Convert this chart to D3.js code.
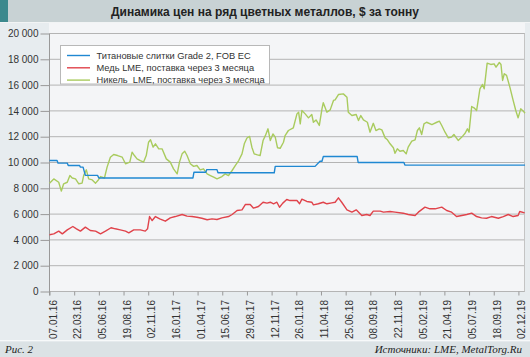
<!DOCTYPE html>
<html><head><meta charset="utf-8">
<script src="https://cdn.jsdelivr.net/npm/d3@7/dist/d3.min.js"></script>
<style>
html,body{margin:0;padding:0;background:#e8edf0;}
svg{display:block;}
</style></head>
<body>
<svg id="chart" width="530" height="357"></svg>
<script>
const title = "Динамика цен на ряд цветных металлов, $ за тонну";
const seriesNames = ["Титановые слитки Grade 2, FOB EC", "Медь LME, поставка через 3 месяца", "Никель  LME, поставка через 3 месяца"];
const seriesColors = ["#1f88d2", "#e0434b", "#a9cb5e"];
const yTicks = [0, 2000, 4000, 6000, 8000, 10000, 12000, 14000, 16000, 18000, 20000];
const tickLabels = ["07.01.16","22.03.16","05.06.16","19.08.16","02.11.16","16.01.17","01.04.17","15.06.17","29.08.17","12.11.17","26.01.18","11.04.18","25.06.18","08.09.18","22.11.18","05.02.19","21.04.19","05.07.19","18.09.19","02.12.19"];
const xDomain = ["2016-01-07", "2019-12-22"];

const titanium = [
["2016-01-07",10150],["2016-01-30",10150],["2016-02-02",9950],["2016-03-01",9950],["2016-03-04",9770],["2016-04-07",9770],["2016-04-10",9640],["2016-04-18",9640],["2016-04-25",9000],["2016-06-01",9000],["2016-06-05",8800],["2017-03-18",8800],["2017-03-21",9250],["2017-04-26",9250],["2017-04-29",9450],["2017-05-30",9450],["2017-06-02",9200],["2017-11-20",9200],["2017-11-23",9700],["2018-03-24",9700],["2018-04-08",10100],["2018-04-14",10100],["2018-04-18",10460],["2018-07-30",10460],["2018-08-02",10000],["2018-12-19",10000],["2018-12-22",9800],["2019-12-22",9800]
];

const copper = [
["2016-01-07",4400],["2016-01-20",4470],["2016-02-04",4680],["2016-02-15",4470],["2016-03-01",4780],["2016-03-18",5040],["2016-03-29",4860],["2016-04-10",4680],["2016-04-25",4990],["2016-05-10",4730],["2016-05-26",4680],["2016-06-10",4470],["2016-06-25",4680],["2016-07-12",4940],["2016-07-25",4860],["2016-08-09",4780],["2016-08-25",4680],["2016-09-04",4550],["2016-09-19",4780],["2016-10-09",4780],["2016-10-24",4680],["2016-10-31",4860],["2016-11-06",5810],["2016-11-14",5500],["2016-11-24",5810],["2016-12-07",5630],["2016-12-24",5450],
["2017-01-08",5710],["2017-01-23",5810],["2017-02-13",5970],["2017-02-28",5840],["2017-03-15",5810],["2017-03-30",5760],["2017-04-14",5680],["2017-04-30",5560],["2017-05-15",5630],["2017-05-30",5580],["2017-06-14",5710],["2017-07-04",5810],["2017-07-15",5970],["2017-07-30",6280],["2017-08-14",6330],["2017-08-24",6740],["2017-09-08",6740],["2017-09-18",6460],["2017-10-03",6590],["2017-10-17",6920],["2017-10-29",6850],["2017-11-08",6920],["2017-11-18",6800],["2017-11-28",6920],["2017-12-06",6530],["2017-12-16",6850],["2017-12-28",7130],
["2018-01-07",7050],["2018-01-28",7050],["2018-02-05",6800],["2018-02-12",7160],["2018-02-27",6980],["2018-03-14",6920],["2018-03-19",6720],["2018-04-03",6800],["2018-04-18",6920],["2018-04-29",6800],["2018-05-14",6870],["2018-05-24",6920],["2018-06-03",7260],["2018-06-13",6920],["2018-06-29",6330],["2018-07-14",6150],["2018-07-27",6330],["2018-08-13",5890],["2018-08-28",5970],["2018-09-07",5890],["2018-09-17",6230],["2018-10-08",6230],["2018-10-18",6150],["2018-11-07",6200],["2018-11-22",6150],["2018-12-17",6070],
["2019-01-01",5970],["2019-01-22",5890],["2019-02-01",6150],["2019-02-21",6540],["2019-03-08",6410],["2019-03-24",6410],["2019-04-13",6540],["2019-04-28",6280],["2019-05-13",6150],["2019-05-28",5810],["2019-06-13",5890],["2019-06-28",5970],["2019-07-13",6070],["2019-07-28",5810],["2019-08-12",5710],["2019-08-27",5680],["2019-09-11",5810],["2019-10-02",5680],["2019-10-17",5810],["2019-11-01",5970],["2019-11-16",5810],["2019-12-01",5890],["2019-12-06",6200],["2019-12-21",6100]
];

const nickel = [
["2016-01-07",8400],["2016-01-20",8730],["2016-02-04",8470],["2016-02-12",7780],["2016-02-19",8350],["2016-03-01",8470],["2016-03-09",8990],["2016-03-16",8800],["2016-03-26",8730],["2016-04-05",8350],["2016-04-15",8400],["2016-04-20",9000],["2016-04-28",9430],["2016-05-05",8730],["2016-05-16",8650],["2016-05-26",8400],["2016-06-02",8600],["2016-06-10",8910],["2016-06-22",8800],["2016-06-30",9640],["2016-07-10",10410],["2016-07-20",10620],["2016-08-01",10540],["2016-08-15",10410],["2016-08-25",9900],["2016-09-07",10030],["2016-09-14",10800],["2016-09-21",10540],["2016-09-29",10280],["2016-10-09",10150],["2016-10-19",10030],["2016-10-27",10540],["2016-11-03",11570],["2016-11-09",11760],["2016-11-17",11190],["2016-11-24",11450],["2016-12-04",11060],["2016-12-14",11060],["2016-12-27",10280],
["2017-01-08",10030],["2017-01-18",9510],["2017-01-29",9120],["2017-02-05",10030],["2017-02-13",10670],["2017-02-21",10870],["2017-02-28",10540],["2017-03-10",9900],["2017-03-20",9700],["2017-03-30",9770],["2017-04-09",9430],["2017-04-19",9510],["2017-04-30",9120],["2017-05-10",8990],["2017-05-20",8860],["2017-05-30",8730],["2017-06-14",8910],["2017-06-24",9120],["2017-07-04",8990],["2017-07-15",9380],["2017-07-25",9770],["2017-08-04",10150],["2017-08-14",10670],["2017-08-21",11450],["2017-08-29",11900],["2017-09-06",12020],["2017-09-13",11190],["2017-09-20",10670],["2017-09-30",10590],["2017-10-08",10540],["2017-10-17",11700],["2017-10-24",12080],["2017-11-01",12610],["2017-11-08",11700],["2017-11-16",12210],["2017-11-23",11960],["2017-11-30",11140],["2017-12-08",11100],["2017-12-18",11570],["2017-12-23",12090],
["2018-01-02",12480],["2018-01-17",12690],["2018-01-28",13770],["2018-02-02",13900],["2018-02-07",13000],["2018-02-12",14030],["2018-02-22",13770],["2018-03-04",13460],["2018-03-14",13720],["2018-03-19",13120],["2018-03-27",13300],["2018-04-06",12870],["2018-04-14",14160],["2018-04-18",14630],["2018-04-29",13900],["2018-05-09",14080],["2018-05-19",14810],["2018-05-24",14860],["2018-06-03",15270],["2018-06-18",15320],["2018-06-29",15060],["2018-07-03",13900],["2018-07-14",13640],["2018-07-27",13720],["2018-08-03",13250],["2018-08-10",13640],["2018-08-18",13300],["2018-08-30",13120],["2018-09-07",12350],["2018-09-17",13040],["2018-09-25",12480],["2018-10-05",12610],["2018-10-13",12530],["2018-10-23",11910],["2018-10-30",11760],["2018-11-07",11450],["2018-11-17",11140],["2018-11-22",10720],["2018-11-29",11060],["2018-12-07",10870],["2018-12-17",10930],["2018-12-26",10670],
["2019-01-01",11190],["2019-01-12",11650],["2019-01-22",11760],["2019-01-29",12480],["2019-02-04",12690],["2019-02-11",12170],["2019-02-18",13000],["2019-02-26",13120],["2019-03-14",12940],["2019-03-29",13120],["2019-04-06",13200],["2019-04-13",12870],["2019-04-23",12350],["2019-05-03",11910],["2019-05-13",11970],["2019-05-20",12170],["2019-06-02",11710],["2019-06-13",11970],["2019-06-23",12270],["2019-06-30",12610],["2019-07-05",12350],["2019-07-13",14340],["2019-07-20",14240],["2019-07-28",14030],["2019-08-07",15710],["2019-08-15",16050],["2019-08-20",15710],["2019-08-29",17700],["2019-09-09",17600],["2019-09-19",17650],["2019-09-25",17390],["2019-10-05",17750],["2019-10-10",17600],["2019-10-15",16360],["2019-10-20",16880],["2019-10-27",16750],["2019-11-06",15840],["2019-11-16",14810],["2019-11-24",14030],["2019-12-01",13460],["2019-12-09",14160],["2019-12-17",13980],["2019-12-22",13820]
];

const figLabel = "Рис. 2";
const sourceLabel = "Источники: LME, MetalTorg.Ru";

const W = 530, H = 357;
const svg = d3.select("#chart");
const parseISO = d3.timeParse("%Y-%m-%d");
const parseTick = d3.timeParse("%d.%m.%y");

const plot = {left: 49.5, right: 525, top: 33.5, bottom: 291.5};

// backgrounds
svg.append("rect").attr("x",0).attr("y",0).attr("width",W).attr("height",H).attr("fill","#e7ecef");
svg.append("rect").attr("x",49).attr("y",23).attr("width",476).attr("height",268.5).attr("fill","#f4f5f7");
// title bar
svg.append("rect").attr("x",0).attr("y",0).attr("width",W).attr("height",22).attr("fill","#c8d2d4");
svg.append("rect").attr("x",0).attr("y",22).attr("width",W).attr("height",1).attr("fill","#f2f4f5");
svg.append("rect").attr("x",0).attr("y",0).attr("width",8).attr("height",22).attr("fill","#3c898d");
svg.append("text").attr("x",W/2).attr("y",15.5).attr("text-anchor","middle")
  .attr("font-family","Liberation Sans, Arial, sans-serif").attr("font-weight","bold")
  .attr("font-size","12px").attr("fill","#222").text(title);
// footer
svg.append("rect").attr("x",0).attr("y",340).attr("width",W).attr("height",1.5).attr("fill","#f7f9fa");
svg.append("rect").attr("x",0).attr("y",341.5).attr("width",W).attr("height",H-341.5).attr("fill","#dbe2e5");
svg.append("text").attr("x",5).attr("y",352.5).attr("font-family","Liberation Serif, Times New Roman, serif")
  .attr("font-style","italic").attr("font-size","11px").attr("fill","#222").text(figLabel);
svg.append("text").attr("x",522).attr("y",352.5).attr("text-anchor","end").attr("font-family","Liberation Serif, Times New Roman, serif")
  .attr("font-style","italic").attr("font-size","11px").attr("fill","#222").text(sourceLabel);

const x = d3.scaleTime().domain(xDomain.map(parseISO)).range([plot.left, plot.right]);
const y = d3.scaleLinear().domain([0, 20000]).range([plot.bottom, plot.top]);

// gridlines
svg.append("g").selectAll("line").data(yTicks).join("line")
  .attr("x1", plot.left).attr("x2", plot.right)
  .attr("y1", d => y(d)).attr("y2", d => y(d))
  .attr("stroke", "#b4b4b4").attr("stroke-width", 1);
// right border
svg.append("line").attr("x1",524.5).attr("x2",524.5).attr("y1",plot.top).attr("y2",plot.bottom)
  .attr("stroke","#c4c4c4");

// y axis
const yAxis = d3.axisLeft(y).tickValues(yTicks).tickSize(9).tickPadding(2)
  .tickFormat(v => d3.format(",")(v).replace(/,/g, " "));
const gy = svg.append("g").attr("transform", `translate(${plot.left},0)`).call(yAxis);
gy.select(".domain").attr("stroke","#999").attr("d", `M-0,${plot.top}V${plot.bottom+4}`);
gy.selectAll(".tick line").attr("stroke","#999");
gy.selectAll(".tick text").attr("font-family","Liberation Sans, Arial, sans-serif").attr("font-size","10px").attr("fill","#333");

// x axis
const tickDates = tickLabels.map(parseTick);
const xAxis = d3.axisBottom(x).tickValues(tickDates).tickSize(4).tickFormat((d,i) => tickLabels[i]);
const gx = svg.append("g").attr("transform", `translate(0,${plot.bottom})`).call(xAxis);
gx.select(".domain").remove();
gx.selectAll(".tick line").attr("stroke","#999");
gx.selectAll(".tick text")
  .attr("font-family","Liberation Sans, Arial, sans-serif").attr("font-size","10px").attr("fill","#333")
  .attr("text-anchor","end").attr("dy", null).attr("y", null)
  .attr("transform", "translate(6.5,8.5) rotate(-90)");

// lines
const line = d3.line().x(d => x(parseISO(d[0]))).y(d => y(d[1]));
const seriesData = [titanium, copper, nickel];
const drawOrder = [2, 1, 0];
drawOrder.forEach(i => {
  svg.append("path").datum(seriesData[i]).attr("d", line)
    .attr("fill","none").attr("stroke", seriesColors[i]).attr("stroke-width", 1.4)
    .attr("stroke-linejoin","round");
});

// legend
const lg = svg.append("g");
lg.append("rect").attr("x",60.5).attr("y",45.5).attr("width",209).attr("height",38.5)
  .attr("fill","#fff").attr("stroke","#b8b8b8");
seriesNames.forEach((name, i) => {
  const yy = 55.5 + i * 12.3;
  lg.append("line").attr("x1",67).attr("x2",90).attr("y1",yy).attr("y2",yy)
    .attr("stroke", seriesColors[i]).attr("stroke-width",1.4);
  lg.append("text").attr("x",96.5).attr("y",yy+3.3).style("white-space","pre")
    .attr("font-family","Liberation Sans, Arial, sans-serif").attr("font-size","9.3px").attr("fill","#333").text(name);
});
</script>
</body></html>
